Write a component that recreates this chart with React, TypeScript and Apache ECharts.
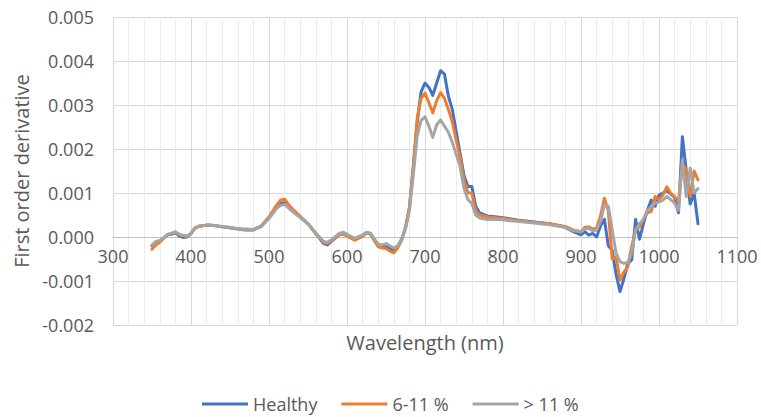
import React, { useEffect, useRef } from "react";
import * as echarts from "echarts";

const wavelengths = [
  350, 355, 360, 365, 370, 375, 380, 385, 390, 395, 400, 405, 410, 420, 430, 440, 450, 460, 470, 480,
  490, 500, 510, 515, 520, 525, 530, 540, 550, 560, 570, 575, 580, 590, 595, 600, 610, 620, 625, 630,
  640, 645, 650, 655, 660, 665, 670, 675, 680, 685, 690, 695, 700, 705, 710, 715, 720, 725, 730, 735,
  740, 745, 750, 755, 760, 765, 770, 780, 790, 800, 820, 840, 860, 880, 890, 900, 905, 910, 915, 920,
  925, 930, 935, 940, 945, 950, 955, 960, 965, 970, 975, 980, 985, 990, 995, 1000, 1005, 1010, 1015, 1020,
  1025, 1030, 1035, 1040, 1045, 1050,
];

const healthy = [
  -0.0002, -0.00012, -0.0001, -0.00002, 0.00005, 0.00006, 0.0001, 0.00002, -0.00001, 0.0, 0.00008, 0.0002, 0.00024, 0.00027, 0.00026, 0.00023, 0.00021, 0.00018, 0.00016, 0.00016,
  0.00024, 0.00043, 0.00068, 0.00077, 0.00078, 0.00068, 0.0006, 0.00045, 0.0003, 0.00008, -0.00015, -0.00018, -0.0001, 0.00005, 0.00008, 0.00004, -0.00006, 0.00002, 0.0001, 0.00008,
  -0.0002, -0.00024, -0.00022, -0.00027, -0.0003, -0.00022, -0.00005, 0.0002, 0.00065, 0.0016, 0.0026, 0.0033, 0.0035, 0.0034, 0.00322, 0.0035, 0.00378, 0.0037, 0.0032, 0.0029,
  0.0024, 0.0019, 0.0014, 0.00115, 0.00115, 0.0007, 0.00055, 0.00048, 0.00046, 0.00044, 0.00038, 0.00034, 0.0003, 0.00022, 0.00012, 0.00005, 0.00012, 0.00004, 0.00008, 0.0,
  0.00025, 0.0004, -0.0002, -0.0003, -0.00085, -0.00124, -0.00095, -0.0006, -0.00052, 0.0004, -0.00005, 0.0003, 0.0006, 0.00084, 0.0007, 0.00095, 0.001, 0.00105, 0.00098, 0.0009,
  0.00055, 0.00228, 0.0015, 0.00075, 0.001, 0.0003,
];

const moderate = [
  -0.00028, -0.00018, -0.00012, -0.00003, 0.00006, 0.00008, 0.00011, 0.00005, 0.00003, 0.00001, 0.00008, 0.0002, 0.00025, 0.00027, 0.00026, 0.00023, 0.00021, 0.00019, 0.00017, 0.00017,
  0.00025, 0.00046, 0.00073, 0.00084, 0.00086, 0.00074, 0.00064, 0.00047, 0.0003, 0.00008, -0.00012, -0.00015, -0.00008, 0.00005, 0.00007, 0.00002, -0.00007, 0.00002, 0.00009, 0.00006,
  -0.00022, -0.00025, -0.00026, -0.00032, -0.00036, -0.00025, -0.00007, 0.00022, 0.00068, 0.0016, 0.0027, 0.00315, 0.00327, 0.00305, 0.00282, 0.0031, 0.00328, 0.00315, 0.0029, 0.00262,
  0.0022, 0.0018, 0.0013, 0.001, 0.001, 0.0006, 0.0005, 0.00046, 0.00044, 0.00042, 0.00037, 0.00033, 0.0003, 0.00024, 0.00016, 0.00012, 0.00022, 0.00023, 0.00018, 0.0002,
  0.00048, 0.00088, 0.0006, -0.0005, -0.00045, -0.00098, -0.0008, -0.00068, -0.00022, 0.00016, 0.00023, 0.0004, 0.00055, 0.00058, 0.00092, 0.00085, 0.00095, 0.00114, 0.001, 0.00092,
  0.0008, 0.00168, 0.0015, 0.00092, 0.0015, 0.0013,
];

const severe = [
  -0.00018, -0.0001, -0.00008, -0.00002, 0.00006, 0.00008, 0.00012, 0.00006, 0.00004, 0.00002, 0.00008, 0.00019, 0.00024, 0.00027, 0.00026, 0.00024, 0.00022, 0.00019, 0.00018, 0.00017,
  0.00024, 0.00042, 0.00065, 0.00072, 0.00074, 0.00066, 0.00058, 0.00044, 0.0003, 0.00009, -0.0001, -0.00012, -0.00006, 0.00008, 0.00011, 0.00006, -0.00003, 0.00005, 0.00011, 0.00008,
  -0.00016, -0.00018, -0.00015, -0.0002, -0.00025, -0.0002, -0.00005, 0.0002, 0.0006, 0.0014, 0.0023, 0.00265, 0.00273, 0.00252, 0.00226, 0.00255, 0.00266, 0.00252, 0.00238, 0.00215,
  0.00188, 0.0016, 0.0011, 0.00085, 0.00077, 0.0005, 0.00043, 0.0004, 0.0004, 0.00039, 0.00035, 0.00032, 0.00028, 0.00022, 0.00014, 0.00012, 0.00018, 0.0002, 0.00014, 0.00016,
  0.00035, 0.00073, 0.0007, 0.00016, -0.00037, -0.00056, -0.0006, -0.00058, -0.00037, 0.00016, 0.0003, 0.0004, 0.0006, 0.00069, 0.00077, 0.0008, 0.00084, 0.00092, 0.00085, 0.00077,
  0.00061, 0.00175, 0.00092, 0.00157, 0.001, 0.0011,
];

const seriesNames = ["Healthy", "6-11 %", "> 11 %"];
const seriesColors = ["#4472C4", "#ED7D31", "#A5A5A5"];
const seriesValues = [healthy, moderate, severe];

const FONT = "'Open Sans', 'Noto Sans', sans-serif";

export default function App() {
  const ref = useRef<HTMLDivElement>(null);
  useEffect(() => {
    if (!ref.current) return;
    const chart = echarts.init(ref.current, undefined, { renderer: "svg" });
    chart.setOption({
      animation: false,
      backgroundColor: "#ffffff",
      textStyle: { fontFamily: FONT },
      grid: { left: 113, right: 24, top: 17, bottom: 92, containLabel: false, outerBoundsMode: "none" },
      legend: {
        left: 197,
        top: 389,
        icon: "rect",
        itemWidth: 46,
        itemHeight: 3,
        itemGap: 24,
        textStyle: { fontFamily: FONT, fontSize: 18, color: "#595959", lineHeight: 20 },
        data: seriesNames,
      },
      xAxis: {
        type: "value",
        min: 300,
        max: 1100,
        interval: 100,
        offset: -88,
        name: "Wavelength (nm)",
        nameLocation: "middle",
        nameGap: 95,
        nameTextStyle: { fontFamily: FONT, fontSize: 20, color: "#595959", verticalAlign: "top" },
        axisLine: { show: true, onZero: false, lineStyle: { color: "#bfbfbf", width: 1 } },
        axisTick: { show: false },
        axisLabel: {
          fontFamily: FONT,
          fontSize: 18,
          color: "#595959",
          margin: 10,
          showMinLabel: true,
          showMaxLabel: true,
          formatter: (v: number) => String(v),
        },
        splitLine: { show: true, lineStyle: { color: "#d9d9d9", width: 1 } },
        minorTick: { show: false, splitNumber: 5 },
        minorSplitLine: { show: true, lineStyle: { color: "#ececec", width: 1 } },
      },
      yAxis: {
        type: "value",
        min: -0.002,
        max: 0.005,
        interval: 0.001,
        name: "First order derivative",
        nameLocation: "middle",
        nameGap: 80,
        nameTextStyle: { fontFamily: FONT, fontSize: 20, color: "#595959" },
        axisLine: { show: false },
        axisTick: { show: false },
        axisLabel: {
          fontFamily: FONT,
          fontSize: 18,
          color: "#595959",
          margin: 19,
          formatter: (v: number) => v.toFixed(3),
        },
        splitLine: { show: true, lineStyle: { color: "#d9d9d9", width: 1 } },
      },
      series: seriesNames.map((name, i) => ({
        name,
        type: "line",
        symbol: "none",
        smooth: false,
        color: seriesColors[i],
        lineStyle: { color: seriesColors[i], width: 3, join: "round", cap: "round" },
        data: wavelengths.map((w, j) => [w, seriesValues[i][j]]),
      })),
    });
    return () => chart.dispose();
  }, []);
  return (
    <div
      ref={ref}
      style={{ position: "fixed", left: 0, top: 0, width: 761, height: 417, background: "#fff" }}
    />
  );
}
